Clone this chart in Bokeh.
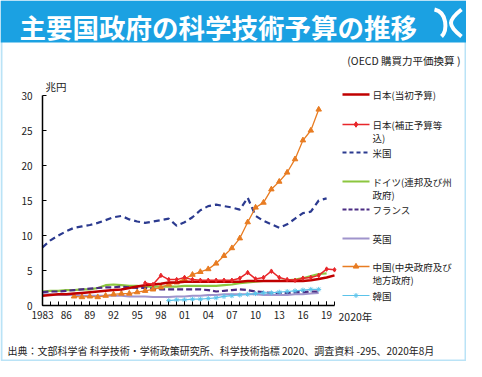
from bokeh.plotting import figure
from bokeh.models import Range1d, LinearAxis, FixedTicker, Label, BoxAnnotation
from bokeh.embed import file_html
from bokeh.resources import INLINE

# ---------------- data (兆円, OECD購買力平価換算) ----------------
years_jp_init = list(range(1983, 2021))
jp_init = [1.4, 1.5, 1.6, 1.6, 1.7, 1.8, 1.9, 2.0, 2.1, 2.2, 2.3, 2.5, 2.7, 2.9, 3.0,
           3.1, 3.3, 3.3, 3.4, 3.4, 3.4, 3.4, 3.4, 3.4, 3.4, 3.4, 3.5, 3.5, 3.5, 3.5,
           3.5, 3.5, 3.5, 3.5, 3.6, 3.8, 4.0, 4.3]

years_jp_supp = list(range(1996, 2021))
jp_supp = [3.2, 3.0, 4.3, 3.7, 3.7, 4.0, 3.7, 3.6, 3.6, 3.6, 3.6, 3.6, 3.9, 4.7, 3.8,
           4.0, 4.9, 4.0, 3.7, 3.6, 3.9, 4.0, 4.3, 5.2, 5.1]

years_us = list(range(1983, 2020))
us = [8.3, 9.3, 10.0, 10.6, 11.1, 11.3, 11.5, 11.8, 12.2, 12.6, 12.8, 12.3, 12.0, 11.8,
      12.0, 12.2, 12.4, 11.4, 11.9, 12.6, 13.6, 14.2, 14.4, 14.2, 14.0, 13.7, 15.4, 12.8,
      12.1, 11.6, 11.1, 11.6, 12.4, 13.2, 13.4, 15.0, 15.3]

years_de = list(range(1983, 2020))
de = [2.0, 2.1, 2.1, 2.2, 2.2, 2.3, 2.3, 2.5, 2.9, 3.0, 2.9, 2.8, 2.8, 2.7, 2.7, 2.7,
      2.7, 2.7, 2.8, 2.8, 2.8, 2.8, 2.8, 2.9, 3.0, 3.2, 3.3, 3.4, 3.5, 3.5, 3.5, 3.6,
      3.7, 3.9, 4.2, 4.5, 4.6]

years_fr = list(range(1983, 2019))
fr = [1.9, 2.0, 2.0, 2.1, 2.2, 2.3, 2.4, 2.5, 2.6, 2.6, 2.7, 2.6, 2.5, 2.5, 2.4, 2.3,
      2.3, 2.3, 2.3, 2.3, 2.3, 2.2, 2.0, 2.1, 2.2, 2.3, 2.2, 2.0, 1.9, 1.8, 1.8, 1.8,
      1.9, 1.9, 2.0, 2.0]

years_uk = list(range(1983, 2019))
uk = [1.6, 1.6, 1.5, 1.5, 1.5, 1.4, 1.4, 1.4, 1.4, 1.4, 1.4, 1.3, 1.3, 1.3, 1.2, 1.2,
      1.2, 1.3, 1.3, 1.4, 1.4, 1.5, 1.5, 1.6, 1.6, 1.6, 1.6, 1.6, 1.5, 1.5, 1.5, 1.5,
      1.6, 1.6, 1.7, 1.8]

years_cn = list(range(1987, 2019))
cn = [1.3, 1.2, 1.3, 1.2, 1.4, 1.6, 1.7, 1.7, 1.9, 2.1, 2.3, 2.6, 3.0, 3.3, 3.8, 4.4,
      4.8, 5.2, 6.0, 7.1, 8.2, 9.6, 11.9, 14.0, 14.7, 16.6, 17.7, 19.0, 20.9, 23.6,
      25.0, 28.0]

years_kr = list(range(1999, 2019))
kr = [0.7, 0.8, 0.8, 0.9, 0.9, 1.0, 1.1, 1.3, 1.4, 1.5, 1.6, 1.7, 1.8, 1.8, 1.9, 2.0,
      2.1, 2.2, 2.3, 2.3]

x_tick_years = [1983, 1986, 1989, 1992, 1995, 1998, 2001, 2004, 2007, 2010, 2013, 2016, 2019]
x_tick_labels = ["1983", "86", "89", "92", "95", "98", "01", "04", "07", "10", "13", "16", "19"]
y_ticks = [0, 5, 10, 15, 20, 25, 30]

series_names = ["日本(当初予算)", "日本(補正予算等\n込)", "米国", "ドイツ(連邦及び州\n政府)",
                "フランス", "英国", "中国(中央政府及び\n地方政府)", "韓国"]

title_text = "主要国政府の科学技術予算の推移"
subtitle_text = "(OECD 購買力平価換算 )"
unit_text = "兆円"
year_end_text = "2020年"
source_text = "出典：文部科学省 科学技術・学術政策研究所、科学技術指標 2020、調査資料 -295、2020年8月"

# ---------------- layout ----------------
W, H = 466, 361
FL, FR = 42, 334          # canvas px of 1983 and 2020
FB, FT = 305, 95          # canvas px of y=0 and y=30
sx = (FR - FL) / (2020 - 1983)
sy = (FB - FT) / 30.0
x0 = 1983 - FL / sx
x1 = x0 + W / sx
y1 = FB / sy
y0 = -(H - FB) / sy


def X(px):
    return x0 + px / sx


def Y(py):
    return (FB - py) / sy


JFONT = "Noto Sans CJK JP"
BLUE = "#1BA1E2"

p = figure(width=W, height=H, x_range=Range1d(x0, x1), y_range=Range1d(y0, y1),
           x_axis_type=None, y_axis_type=None, toolbar_location=None,
           output_backend="svg", min_border=0)
p.outline_line_color = None
p.background_fill_color = "white"
p.border_fill_color = "white"

# header band and frame border
p.add_layout(BoxAnnotation(left=X(0), right=X(W), top=Y(0), bottom=Y(42), level="underlay",
                           fill_color=BLUE, fill_alpha=1.0, line_color=None))
p.add_layout(BoxAnnotation(left=X(1), right=X(W - 1), top=Y(1), bottom=Y(H - 1),
                           level="underlay", fill_color=None, fill_alpha=0,
                           line_color=BLUE, line_width=2))

# axes
xaxis = LinearAxis(fixed_location=0, bounds=(1983, 2020),
                   ticker=FixedTicker(ticks=x_tick_years, minor_ticks=list(range(1983, 2021))))
xaxis.major_label_overrides = {y: t for y, t in zip(x_tick_years, x_tick_labels)}
yaxis = LinearAxis(fixed_location=1983, bounds=(0, 30),
                   ticker=FixedTicker(ticks=y_ticks, minor_ticks=[]))
for ax in (xaxis, yaxis):
    ax.axis_line_color = "black"
    ax.axis_line_width = 1.5
    ax.major_tick_line_color = "black"
    ax.major_tick_in = 4
    ax.major_tick_out = 0
    ax.minor_tick_line_color = "black"
    ax.minor_tick_in = 4
    ax.minor_tick_out = 0
    ax.major_label_text_font = JFONT
    ax.major_label_text_font_size = "10px"
    ax.major_label_text_color = "#222222"
xaxis.major_label_standoff = 5
yaxis.major_label_standoff = 10
p.add_layout(xaxis, "below")
p.add_layout(yaxis, "left")

# series
C_JP1, C_JP2, C_US, C_DE = "#C00000", "#E8262A", "#2B3A8F", "#8CC63F"
C_FR, C_UK, C_CN, C_KR = "#4B2C83", "#A094CC", "#E87C22", "#5BC3EA"

p.line(years_us, us, line_color=C_US, line_width=2.2, line_dash="6 4")
p.line(years_de, de, line_color=C_DE, line_width=2.2)
p.line(years_uk, uk, line_color=C_UK, line_width=2)
p.line(years_fr, fr, line_color=C_FR, line_width=2.2, line_dash="6 3")
p.line(years_kr, kr, line_color=C_KR, line_width=1.2)
p.scatter(years_kr, kr, marker="asterisk", size=5, line_color=C_KR, line_width=1)
p.line(years_cn, cn, line_color=C_CN, line_width=1.3)
p.scatter(years_cn, cn, marker="triangle", size=5.5, color=C_CN)
p.line(years_jp_init, jp_init, line_color=C_JP1, line_width=2.5)
p.line(years_jp_supp, jp_supp, line_color=C_JP2, line_width=1.5)
p.scatter(years_jp_supp, jp_supp, marker="diamond", size=4.5, color=C_JP2)

# legend (drawn manually)
leg_styles = [
    (C_JP1, 2.5, "solid", None),
    (C_JP2, 1.5, "solid", "diamond"),
    (C_US, 2.2, "4 3", None),
    (C_DE, 2.2, "solid", None),
    (C_FR, 2.2, "4 2", None),
    (C_UK, 2.0, "solid", None),
    (C_CN, 1.3, "solid", "triangle"),
    (C_KR, 1.2, "solid", "asterisk"),
]
leg_y = [94, 124, 152, 181, 209, 238, 266, 295]
LX0, LX1, LT = 342, 369, 372
for name, (col, lw, dash, mk), yy in zip(series_names, leg_styles, leg_y):
    p.line([X(LX0), X(LX1)], [Y(yy), Y(yy)], line_color=col, line_width=lw, line_dash=dash)
    if mk is not None:
        p.scatter([X((LX0 + LX1) / 2)], [Y(yy)], marker=mk, size=5.5 if mk != "asterisk" else 5,
                  color=col, line_color=col)
    for k, part in enumerate(name.split("\n")):
        p.add_layout(Label(x=X(LT), y=Y(yy + 13 * k), text=part, text_font=JFONT,
                           text_font_size="9.5px", text_color="#222222",
                           text_baseline="middle", text_align="left"))

# texts
p.add_layout(Label(x=X(19), y=Y(26), text=title_text, text_font=JFONT, text_font_size="26.5px",
                   text_font_style="bold", text_color="white", text_baseline="middle"))
p.add_layout(Label(x=X(460), y=Y(60), text=subtitle_text, text_font=JFONT,
                   text_font_size="10.5px", text_color="#222222", text_baseline="middle",
                   text_align="right"))
p.add_layout(Label(x=X(45), y=Y(86), text=unit_text, text_font=JFONT, text_font_size="10.5px",
                   text_color="#222222", text_baseline="middle"))
p.add_layout(Label(x=X(338), y=Y(316), text=year_end_text, text_font=JFONT,
                   text_font_size="10.5px", text_color="#222222", text_baseline="middle"))
p.add_layout(Label(x=X(7), y=Y(350), text=source_text, text_font=JFONT, text_font_size="10px",
                   text_color="#222222", text_baseline="middle"))

# logo (stylised, white strokes in the header)
p.bezier(x0=[X(434), X(461)], y0=[Y(9), Y(9)], x1=[X(441), X(461)], y1=[Y(36), Y(36)],
         cx0=[X(447), X(447)], cy0=[Y(12), Y(20)], cx1=[X(447), X(447)], cy1=[Y(30), Y(25)],
         line_color="white", line_width=4)

open("out.html", "w").write(file_html(p, INLINE))
